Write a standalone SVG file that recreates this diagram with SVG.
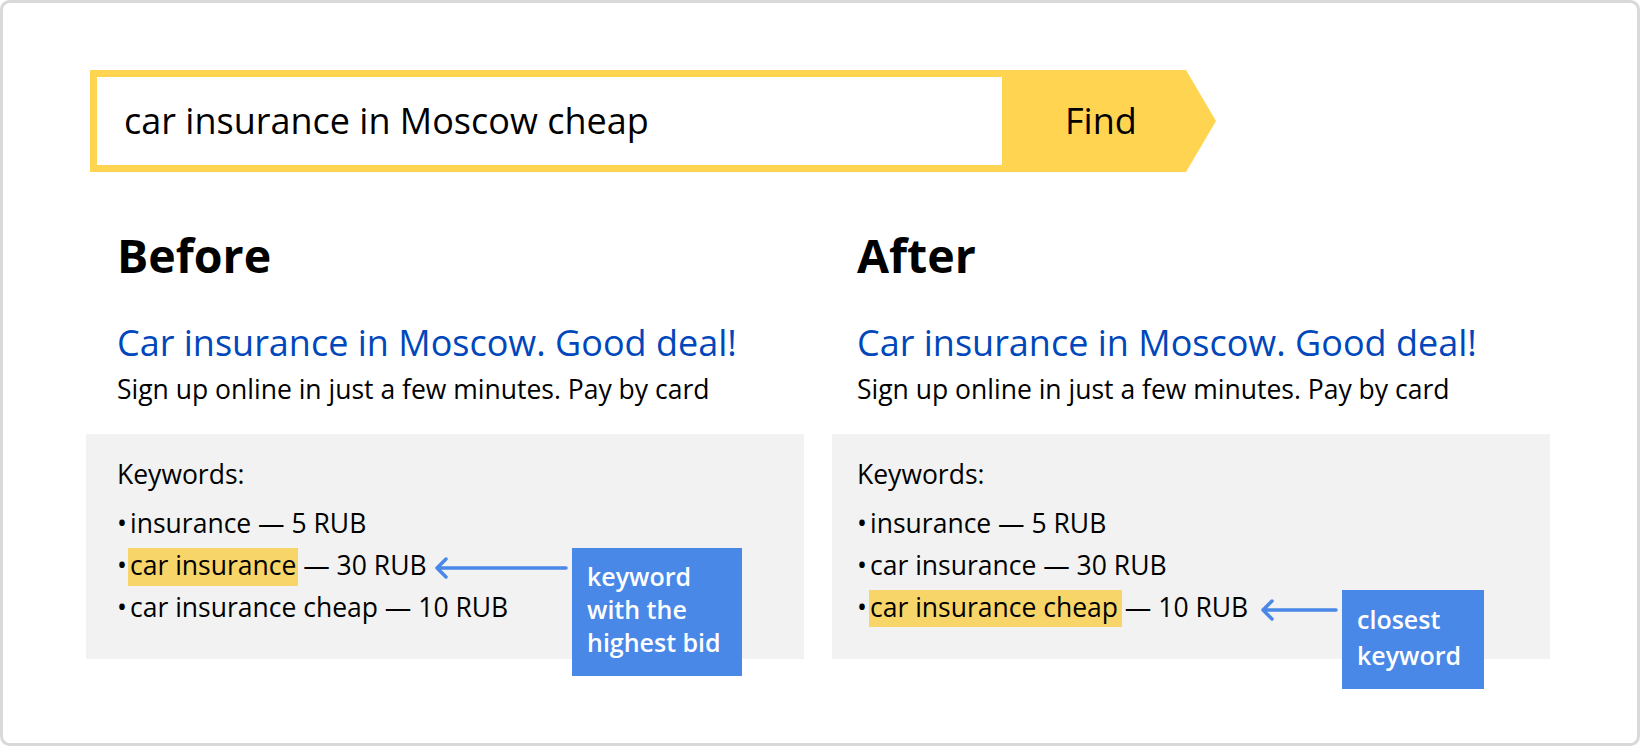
<svg xmlns="http://www.w3.org/2000/svg" width="1640" height="746" viewBox="0 0 1640 746">
  <style>
    text { font-family: "Open Sans", "Noto Sans", "Liberation Sans", sans-serif; fill: #000; }
    .query { font-size: 36px; }
    .h1 { font-size: 46.5px; font-weight: 700; }
    .title { font-size: 36px; fill: #0047BB; }
    .body { font-size: 26.5px; }
    .note { font-size: 25px; font-weight: 600; fill: #fff; }
    .panel { fill: #F2F2F2; }
    .hl { fill: #F8D568; }
    .callout { fill: #4A88E8; }
    .conn { fill: none; stroke: #4A88E8; stroke-width: 3.5; stroke-linecap: round; stroke-linejoin: round; }
  </style>
  <rect x="1.5" y="1.5" width="1637" height="743" rx="8" fill="#fff" stroke="#D9D9D9" stroke-width="3"/>

  <g id="search-bar">
    <polygon points="90,70 1186,70 1216,121 1186,172 90,172" fill="#FFD451"/>
    <rect x="97" y="77" width="905" height="88" fill="#fff"/>
    <text class="query" x="124" y="134">car insurance in Moscow cheap</text>
    <text class="query" x="1065" y="134">Find</text>
  </g>

  <g id="before">
    <text class="h1" x="117" y="273">Before</text>
    <text class="title" x="117" y="356">Car insurance in Moscow. Good deal!</text>
    <text class="body" x="117" y="399">Sign up online in just a few minutes. Pay by card</text>
    <rect class="panel" x="86" y="434" width="718" height="225"/>
    <rect class="hl" x="128" y="548" width="170" height="38"/>
    <text class="body" x="117" y="484">Keywords:</text>
    <text class="body" x="117" y="533">•<tspan x="130">insurance — 5 RUB</tspan></text>
    <text class="body" x="117" y="575">•<tspan x="130">car insurance — 30 RUB</tspan></text>
    <text class="body" x="117" y="617">•<tspan x="130">car insurance cheap — 10 RUB</tspan></text>
  </g>

  <g id="callout-highest-bid">
    <rect class="callout" x="572" y="548" width="170" height="128"/>
    <text class="note" x="587" y="586">keyword</text>
    <text class="note" x="587" y="619">with the</text>
    <text class="note" x="587" y="652">highest bid</text>
  </g>

  <g id="after">
    <text class="h1" x="857" y="273">After</text>
    <text class="title" x="857" y="356">Car insurance in Moscow. Good deal!</text>
    <text class="body" x="857" y="399">Sign up online in just a few minutes. Pay by card</text>
    <rect class="panel" x="832" y="434" width="718" height="225"/>
    <rect class="hl" x="869" y="590" width="253" height="37"/>
    <text class="body" x="857" y="484">Keywords:</text>
    <text class="body" x="857" y="533">•<tspan x="870">insurance — 5 RUB</tspan></text>
    <text class="body" x="857" y="575">•<tspan x="870">car insurance — 30 RUB</tspan></text>
    <text class="body" x="857" y="617">•<tspan x="870">car insurance cheap — 10 RUB</tspan></text>
  </g>

  <g id="callout-closest">
    <rect class="callout" x="1342" y="590" width="142" height="99"/>
    <text class="note" x="1357" y="629">closest</text>
    <text class="note" x="1357" y="665">keyword</text>
  </g>

  <g id="connectors">
    <path class="conn" d="M566,568 H437 M446,559 L437,568 L446,577"/>
    <path class="conn" d="M1336,610 H1263 M1272,601 L1263,610 L1272,619"/>
  </g>
</svg>
